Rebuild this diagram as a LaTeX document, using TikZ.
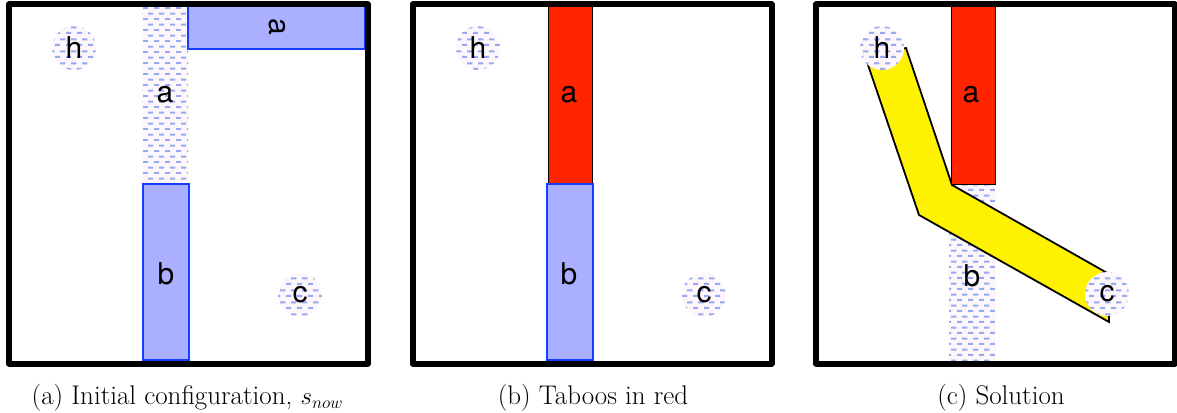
\documentclass[tikz,border=0pt]{standalone}
\usepackage{fontspec}
\newfontfamily\labelfont{TeX Gyre Heros}
\usepackage{xcolor}
\usetikzlibrary{patterns.meta}

\definecolor{bluefill}{RGB}{170,176,255}
\definecolor{bluebd}{RGB}{20,60,255}
\definecolor{taboored}{RGB}{255,36,0}
\definecolor{dashblue}{RGB}{150,170,242}
\definecolor{ghostbg}{RGB}{253,247,252}

\tikzdeclarepattern{
  name=bluedash, type=uncolored,
  bottom left={(0pt,0pt)}, top right={(11pt,11.4pt)},
  tile size={(11pt,11.4pt)},
  code={
    \fill (0pt,0pt) rectangle (5.5pt,2.1pt);
    \fill (5.5pt,5.7pt) rectangle (11pt,7.8pt);
  }
}

\begin{document}
\begin{tikzpicture}[
  x=1pt, y=-1pt,
  frame/.style={draw=black, line width=6pt, line join=round},
  blockblue/.style={draw=bluebd, fill=bluefill, line width=1.5pt},
  blockred/.style={draw=black, fill=taboored, line width=1pt},
  ghost/.style={fill=ghostbg, postaction={pattern=bluedash, pattern color=dashblue}},
  letter/.style={font=\labelfont\fontsize{30}{30}\selectfont, inner sep=0pt},
  spot/.style={circle, minimum size=44pt, ghost, letter},
  band/.style={draw=black, fill=yellow, line width=1.8pt},
  caption/.style={font=\fontsize{27}{30}\selectfont, inner sep=0pt}
]
\useasboundingbox (0,0) rectangle (1177,412);

%% (a) initial configuration
\path[ghost] (142,8) rectangle (188,184);
\draw[blockblue] (143,184) rectangle (189,360);
\draw[blockblue] (188,6) rectangle (365,49);
\node[letter] (a1) at (165,95) {a};
\node[letter] (b1) at (166,274) {b};
\node[letter, rotate=-90] (a1rot) at (277,27) {a};
\node[spot] (h1) at (74,48) {h};
\node[spot] (c1) at (300,295) {c};
\draw[frame] (9,4.5) rectangle (367.5,363.5);

%% (b) taboos in red
\draw[blockred] (548,4) rectangle (592,184);
\draw[blockblue] (547,184) rectangle (593,360);
\node[letter] (a2) at (569,95) {a};
\node[letter] (b2) at (569,274) {b};
\node[spot] (h2) at (478,48) {h};
\node[spot] (c2) at (704,295) {c};
\draw[frame] (412.5,4.5) rectangle (771.5,363.5);

%% (c) solution
\path[ghost] (949,184) rectangle (995,360);
\draw[band] (866,59) -- (919,215) -- (1109,322) -- (1109,274)
  -- (952,185) -- (906,48) -- cycle;
\draw[blockred] (951,4) rectangle (995,184);
\node[letter] (a3) at (971,95) {a};
\node[letter] (b3) at (972,276) {b};
\node[spot] (h3) at (882,48) {h};
\node[spot] (c3) at (1107,294) {c};
\draw[frame] (816,4.5) rectangle (1174.5,363.5);

%% captions
\node[caption] (capa) at (187.5,398) {(a)\ Initial configuration, $s_{now}$};
\node[caption] (capb) at (593,398) {(b)\ Taboos in red};
\node[caption] (capc) at (1001,398) {(c)\ Solution};

\end{tikzpicture}
\end{document}
